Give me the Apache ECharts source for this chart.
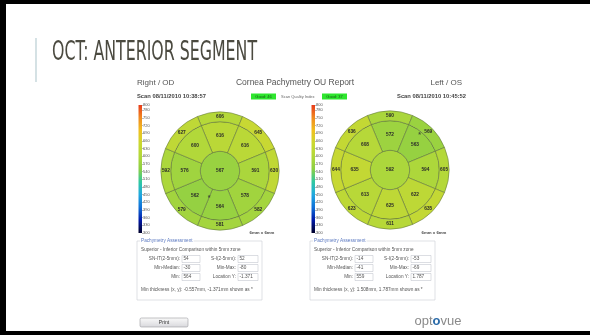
<!DOCTYPE html>
<html>
<head>
<meta charset="utf-8">
<script src="https://cdn.jsdelivr.net/npm/echarts@6/dist/echarts.min.js"></script>
<style>
  html, body { margin: 0; padding: 0; background: #fff; }
  #chart { width: 590px; height: 335px; }
</style>
</head>
<body>
<div id="chart"></div>
<script>
// Average corneal thickness (µm) per zone, sectors listed clockwise from superior
const odCenter = 567;
const odMid    = [616, 616, 591, 578, 564, 562, 576, 600];
const odOuter  = [606, 645, 630, 582, 581, 579, 592, 627];

const osCenter = 592;
const osMid    = [572, 563, 594, 622, 625, 613, 635, 608];
const osOuter  = [590, 569, 605, 635, 611, 623, 644, 636];

// Direction markers around each map (compass angle in degrees)
const odDirNames = ['S', 'SN', 'N', 'IN', 'I', 'IT', 'T', 'ST'];
const osDirNames = ['S', 'ST', 'T', 'IT', 'I', 'IN', 'N', 'SN'];
const dirAngles  = [0, 45, 90, 135, 180, 225, 270, 315];

// Colour scale of the thickness map
const scaleMin = 300, scaleMax = 800, scaleStep = 30;
const scaleColors = ['#000028', '#0018a8', '#1070d8', '#20a8e0', '#30c8a0', '#8ccf44',
                     '#b2d83a', '#cad832', '#f0c020', '#f08a20', '#e83a1a'];

// Pachymetry assessment
const assessLabels = ['SN-IT(2-5mm):', 'S-I(2-5mm):', 'Min-Median:', 'Min-Max:', 'Min:', 'Location Y:'];
const odAssess = ['54', '52', '-30', '-80', '564', '-1.371'];
const osAssess = ['-14', '-53', '-41', '-69', '559', '1.787'];
const odMinXY = [-0.557, -1.371];
const osMinXY = [1.508, 1.787];

const odScan = 'Scan 08/11/2010 10:38:57';
const osScan = 'Scan 08/11/2010 10:45:52';
const odQuality = 'Good: 46';
const osQuality = 'Good: 37';

// Zone boundaries in mm radius (2, 5 and 6 mm diameters) and label radii
const ringEdges = [0, 1, 2.5, 3];
const labelRadius = [0, 1.8, 2.75];

const FONT = '"Liberation Sans", Arial, sans-serif';

function zoneData(center, mid, outer) {
  const d = [[0, -1, center]];
  mid.forEach((v, i) => d.push([1, i, v]));
  outer.forEach((v, i) => d.push([2, i, v]));
  return d;
}

function renderZone(params, api) {
  const ring = api.value(0), sector = api.value(1), thick = api.value(2);
  const cs = params.coordSys;
  const cx = cs.cx, cy = cs.cy;
  const px = mm => { const p = api.coord([mm, 0]); return Math.hypot(p[0] - cx, p[1] - cy); };
  const ang = deg => { const p = api.coord([3, deg]); return Math.atan2(p[1] - cy, p[0] - cx); };
  const fill = api.visual('color');
  const r0 = px(ringEdges[ring]), r1 = px(ringEdges[ring + 1]);
  const edge = { stroke: '#56683a', lineWidth: 0.5 };
  let shape, tx, ty;
  if (sector < 0) {
    shape = { type: 'circle', shape: { cx, cy, r: r1 }, style: Object.assign({ fill }, edge) };
    tx = cx; ty = cy;
  } else {
    const mid = sector * 45;
    let a0 = ang((mid - 22.5 + 360) % 360), a1 = ang(mid + 22.5);
    if (a1 <= a0) a1 += Math.PI * 2;
    shape = { type: 'sector', shape: { cx, cy, r0, r: r1, startAngle: a0, endAngle: a1, clockwise: true },
              style: Object.assign({ fill }, edge) };
    const lp = api.coord([labelRadius[ring], mid]);
    tx = lp[0]; ty = lp[1];
  }
  return {
    type: 'group',
    children: [
      shape,
      { type: 'text', x: tx, y: ty, z2: 10,
        style: { text: String(thick), fill: '#2a2a2a', fontSize: 4.8, fontWeight: 'bold',
                 fontFamily: FONT, align: 'center', verticalAlign: 'middle' } }
    ]
  };
}

function polarXY(xy) {
  const r = Math.hypot(xy[0], xy[1]);
  let a = Math.atan2(xy[0], xy[1]) * 180 / Math.PI;
  if (a < 0) a += 360;
  return [r, a];
}

function dirData(names) {
  return names.map((n, i) => ({ name: n, value: [n.length > 1 ? 3.2 : 3.25, dirAngles[i]] }));
}

function dirSeries(polarIndex, names) {
  return {
    type: 'scatter', coordinateSystem: 'polar', polarIndex, symbolSize: 0, silent: true,
    data: dirData(names),
    label: { show: true, position: 'inside', color: '#333', fontFamily: FONT, fontWeight: 'bold',
             formatter: p => p.name, fontSize: 4 }
  };
}

function starSeries(polarIndex, xy) {
  return {
    type: 'scatter', coordinateSystem: 'polar', polarIndex, symbolSize: 0, silent: true,
    data: [polarXY(xy)],
    label: { show: true, position: 'inside', formatter: '*', color: '#333',
             fontFamily: FONT, fontWeight: 'bold', fontSize: 7 }
  };
}

function barGradient() {
  const n = scaleColors.length - 1;
  return new echarts.graphic.LinearGradient(0, 1, 0, 0,
    scaleColors.map((c, i) => ({ offset: i / n, color: c })));
}

function scaleSeries(gridIndex) {
  return {
    type: 'bar', xAxisIndex: gridIndex, yAxisIndex: gridIndex, silent: true,
    barWidth: '100%', data: [scaleMax], itemStyle: { color: barGradient() }
  };
}

function text(x, y, str, o = {}) {
  return {
    type: 'text', x, y, z: 5,
    style: {
      text: str, fill: o.fill || '#555', fontSize: o.size || 4.7, fontFamily: o.family || FONT,
      fontWeight: o.weight || 'normal', align: o.align || 'left', verticalAlign: 'middle',
      backgroundColor: o.bg, padding: o.bg ? [0, 1] : 0
    }
  };
}

function assessBox(ox, vals, minXY) {
  const els = [];
  els.push({ type: 'rect', z: 4, shape: { x: ox, y: 241, width: 125, height: 59 },
             style: { fill: '#fff', stroke: '#c9cdd5', lineWidth: 0.6 } });
  els.push(text(ox + 3, 241, 'Pachymetry Assessment', { fill: '#5a78c0', bg: '#fff' }));
  els.push(text(ox + 4, 249.5, 'Superior - Inferior Comparison within 5mm zone'));
  for (let i = 0; i < assessLabels.length; i++) {
    const row = Math.floor(i / 2), col = i % 2;
    const y = 259 + row * 9;
    const lx = col ? ox + 99 : ox + 43;
    const bx = lx + 2, bw = col ? 20 : 18;
    els.push(text(lx, y, assessLabels[i], { align: 'right' }));
    els.push({ type: 'rect', z: 5, shape: { x: bx, y: y - 3.5, width: bw, height: 7 },
               style: { fill: '#fff', stroke: '#b9bdc6', lineWidth: 0.5 } });
    els.push(text(bx + 1.5, y, vals[i]));
  }
  els.push(text(ox + 4, 290, 'Min thickness (x, y): ' + minXY[0].toFixed(3) + 'mm, ' +
                 minXY[1].toFixed(3) + 'mm shown as *'));
  return els;
}

const graphics = [
  // slide frame
  { type: 'rect', shape: { x: 0, y: 0, width: 590, height: 4 }, style: { fill: '#000' } },
  { type: 'rect', shape: { x: 0, y: 0, width: 6, height: 335 }, style: { fill: '#000' } },
  { type: 'rect', shape: { x: 0, y: 331, width: 590, height: 4 }, style: { fill: '#000' } },
  { type: 'line', shape: { x1: 36, y1: 38, x2: 36, y2: 82 }, style: { stroke: '#b9ced3', lineWidth: 1.2 } },
  { type: 'text', x: 52, y: 53.5, scaleX: 0.675,
    style: { text: 'OCT: ANTERIOR SEGMENT', fill: '#4b4a40', fontSize: 26,
             fontFamily: '"Liberation Sans Narrow", "DejaVu Sans Condensed", sans-serif',
             verticalAlign: 'middle' } },
  // report header
  text(137, 83, 'Right / OD', { size: 8 }),
  text(295, 83, 'Cornea Pachymetry OU Report', { size: 8.5, align: 'center' }),
  text(462, 83, 'Left / OS', { size: 8, align: 'right' }),
  text(137, 96.5, odScan, { size: 5.8, weight: 'bold', fill: '#444' }),
  text(466, 96.5, osScan, { size: 5.8, weight: 'bold', fill: '#444', align: 'right' }),
  { type: 'rect', shape: { x: 251, y: 93.5, width: 25, height: 6 }, style: { fill: '#2ee62e' } },
  text(263.5, 96.5, odQuality, { size: 4, align: 'center', fill: '#1a5a1a' }),
  text(281, 96.5, 'Scan Quality Index', { size: 4, fill: '#666' }),
  { type: 'rect', shape: { x: 322, y: 93.5, width: 25, height: 6 }, style: { fill: '#2ee62e' } },
  text(334.5, 96.5, osQuality, { size: 4, align: 'center', fill: '#1a5a1a' }),
  text(262, 232.5, '6mm x 6mm', { size: 4.3, weight: 'bold', align: 'center', fill: '#444' }),
  text(434, 232.5, '6mm x 6mm', { size: 4.3, weight: 'bold', align: 'center', fill: '#444' }),
  ...assessBox(137, odAssess, odMinXY),
  ...assessBox(310, osAssess, osMinXY),
  // footer
  { type: 'rect', shape: { x: 140, y: 318, width: 48, height: 9, r: 1.5 },
    style: { fill: new echarts.graphic.LinearGradient(0, 0, 0, 1, [{ offset: 0, color: '#fafafa' }, { offset: 1, color: '#d8d8dc' }]),
             stroke: '#9a9aa0', lineWidth: 0.6 } },
  text(164, 322.5, 'Print', { size: 5, align: 'center', fill: '#333' }),
  { type: 'text', x: 438, y: 321.5,
    style: { text: '{a|opt}{b|o}{a|vue}', align: 'center', verticalAlign: 'middle',
             rich: { a: { fontSize: 13, fontFamily: FONT, fill: '#8a8a8a' },
                     b: { fontSize: 13, fontFamily: FONT, fill: '#2a6aa8', fontWeight: 'bold' } } } }
];

const chart = echarts.init(document.getElementById('chart'), null, { renderer: 'canvas' });

const angleAxisBase = { type: 'value', min: 0, max: 360, startAngle: 90, clockwise: true, show: false };
const radiusAxisBase = { type: 'value', min: 0, max: 3, show: false };
const scaleAxis = {
  type: 'value', min: scaleMin, max: scaleMax, interval: scaleStep, position: 'right',
  axisLine: { show: false }, splitLine: { show: false },
  axisTick: { show: true, length: 1.5, lineStyle: { color: '#777', width: 0.5 } },
  axisLabel: { fontSize: 4, color: '#555', margin: 1, fontFamily: FONT }
};

chart.setOption({
  animation: false,
  backgroundColor: '#fff',
  polar: [
    { center: [220, 171], radius: [0, 59] },
    { center: [390, 170], radius: [0, 59] }
  ],
  angleAxis: [
    Object.assign({ polarIndex: 0 }, angleAxisBase),
    Object.assign({ polarIndex: 1 }, angleAxisBase)
  ],
  radiusAxis: [
    Object.assign({ polarIndex: 0 }, radiusAxisBase),
    Object.assign({ polarIndex: 1 }, radiusAxisBase)
  ],
  grid: [
    { left: 138.5, top: 105, width: 3.5, height: 128 },
    { left: 311.5, top: 105, width: 3.5, height: 128 }
  ],
  xAxis: [
    { gridIndex: 0, type: 'category', data: [''], show: false },
    { gridIndex: 1, type: 'category', data: [''], show: false }
  ],
  yAxis: [
    Object.assign({ gridIndex: 0 }, scaleAxis),
    Object.assign({ gridIndex: 1 }, scaleAxis)
  ],
  visualMap: {
    type: 'continuous', show: false, min: scaleMin, max: scaleMax, dimension: 2,
    seriesIndex: [0, 1], inRange: { color: scaleColors }
  },
  graphic: graphics,
  series: [
    { type: 'custom', coordinateSystem: 'polar', polarIndex: 0, silent: true,
      renderItem: renderZone, data: zoneData(odCenter, odMid, odOuter) },
    { type: 'custom', coordinateSystem: 'polar', polarIndex: 1, silent: true,
      renderItem: renderZone, data: zoneData(osCenter, osMid, osOuter) },
    dirSeries(0, odDirNames),
    dirSeries(1, osDirNames),
    starSeries(0, odMinXY),
    starSeries(1, osMinXY),
    scaleSeries(0),
    scaleSeries(1)
  ]
});
</script>
</body>
</html>
